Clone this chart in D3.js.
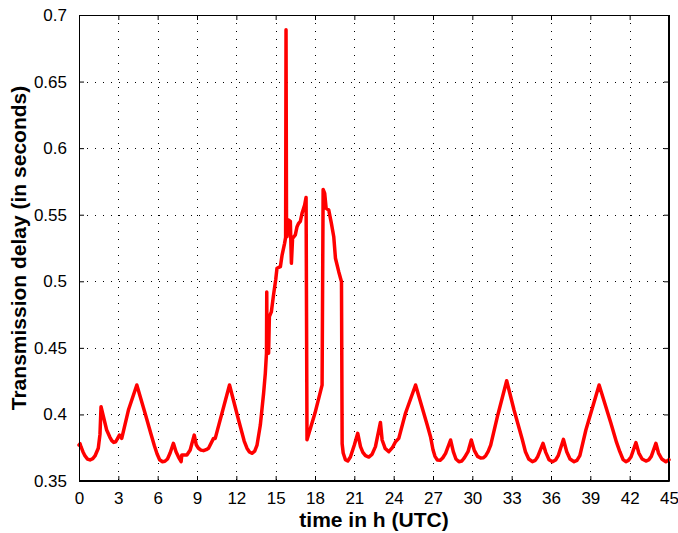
<!DOCTYPE html>
<html>
<head>
<meta charset="utf-8">
<script src="https://cdn.jsdelivr.net/npm/d3@7"></script>
<style>
  html, body { margin: 0; padding: 0; background: #fff; }
  svg { display: block; }
  text { font-family: "Liberation Sans", Arial, Helvetica, sans-serif; fill: #000; }
</style>
</head>
<body>
<svg id="chart" width="678" height="533"></svg>
<script>
// ---- data ----
const times = [
  0.00, 0.08, 0.15, 0.30, 0.46, 0.65, 0.84, 1.05, 1.22, 1.47,
  1.60, 1.68, 2.11, 2.35, 2.50, 2.65, 2.80, 3.08, 3.26, 3.77,
  4.41, 5.04, 5.50, 5.75, 5.95, 6.15, 6.37, 6.55, 6.75, 6.95,
  7.20, 7.40, 7.59, 7.79, 7.84, 8.23, 8.48, 8.79, 8.95, 9.11,
  9.30, 9.50, 9.70, 9.88, 10.26, 10.39, 11.48, 12.17, 12.60, 12.81,
  13.00, 13.19, 13.40, 13.58, 13.83, 14.08, 14.21, 14.30, 14.32, 14.34,
  14.46, 14.52, 14.67, 14.84, 15.00, 15.10, 15.36, 15.49, 15.68, 15.76,
  15.79, 15.83, 15.87, 15.99, 16.12, 16.20, 16.29, 16.50, 16.63, 16.75,
  16.88, 17.01, 17.21, 17.32, 17.39, 18.00, 18.54, 18.62, 18.74, 18.85,
  19.05, 19.25, 19.43, 19.56, 19.81, 20.02, 20.07, 20.15, 20.32, 20.50,
  20.70, 21.00, 21.26, 21.47, 21.65, 21.85, 22.10, 22.35, 22.61, 22.99,
  23.12, 23.35, 23.63, 23.90, 24.14, 24.39, 24.90, 25.67, 26.56, 26.81,
  27.00, 27.15, 27.33, 27.55, 27.75, 27.96, 28.34, 28.55, 28.75, 28.98,
  29.20, 29.40, 29.67, 29.92, 30.15, 30.40, 30.63, 30.85, 31.02, 31.20,
  31.40, 31.91, 32.62, 33.18, 33.82, 34.05, 34.30, 34.58, 34.80, 34.97,
  35.39, 35.60, 35.85, 36.11, 36.35, 36.55, 36.95, 37.20, 37.45, 37.76,
  37.98, 38.20, 38.66, 39.67, 40.57, 41.00, 41.25, 41.50, 41.71, 41.90,
  42.10, 42.48, 42.70, 42.95, 43.24, 43.45, 43.65, 44.00, 44.20, 44.45,
  44.76, 45.00
];
const delays = [
  0.377, 0.378, 0.3758, 0.372, 0.3688, 0.3665, 0.3658, 0.3668, 0.3688, 0.3746,
  0.385, 0.4058, 0.3883, 0.383, 0.3803, 0.379, 0.3795, 0.3845, 0.382, 0.4033,
  0.4221, 0.4009, 0.385, 0.3765, 0.3705, 0.366, 0.3645, 0.3648, 0.3665, 0.371,
  0.3783, 0.372, 0.368, 0.3645, 0.3695, 0.3695, 0.3733, 0.3845, 0.377, 0.3746,
  0.3732, 0.3728, 0.3735, 0.3746, 0.382, 0.382, 0.4221, 0.3958, 0.380, 0.3746,
  0.3718, 0.3708, 0.3725, 0.377, 0.392, 0.4159, 0.4309, 0.446, 0.492, 0.446,
  0.446, 0.4734, 0.477, 0.490, 0.501, 0.5098, 0.511, 0.5197, 0.5285, 0.533,
  0.689, 0.534, 0.5335, 0.546, 0.545, 0.5135, 0.5323, 0.5348, 0.541, 0.5435,
  0.545, 0.551, 0.5573, 0.563, 0.381, 0.401, 0.422, 0.569, 0.566, 0.5548,
  0.5535, 0.5435, 0.5335, 0.5173, 0.5072, 0.4997, 0.378, 0.371, 0.366, 0.365,
  0.368, 0.377, 0.3858, 0.3758, 0.3715, 0.369, 0.368, 0.370, 0.3758, 0.394,
  0.3808, 0.3745, 0.372, 0.375, 0.3795, 0.382, 0.4009, 0.4221, 0.392, 0.3833,
  0.3735, 0.3685, 0.3658, 0.3655, 0.3675, 0.3708, 0.3808, 0.372, 0.3665, 0.3645,
  0.365, 0.3675, 0.372, 0.3808, 0.373, 0.3685, 0.3672, 0.3675, 0.369, 0.372,
  0.377, 0.3983, 0.4253, 0.4033, 0.3808, 0.372, 0.3665, 0.3645, 0.3655, 0.368,
  0.3783, 0.3715, 0.366, 0.3645, 0.3658, 0.369, 0.3813, 0.372, 0.3665, 0.3645,
  0.3655, 0.369, 0.3883, 0.4221, 0.3933, 0.379, 0.372, 0.366, 0.3645, 0.3655,
  0.368, 0.3788, 0.371, 0.3665, 0.365, 0.3658, 0.3685, 0.3783, 0.371, 0.3665,
  0.3645, 0.366
];
const xTicks = [0, 3, 6, 9, 12, 15, 18, 21, 24, 27, 30, 33, 36, 39, 42, 45];
const yTicks = [0.35, 0.4, 0.45, 0.5, 0.55, 0.6, 0.65, 0.7];
const xLabel = "time in h (UTC)";
const yLabel = "Transmission delay (in seconds)";

// ---- layout ----
const pLeft = 79, pRight = 669, pTop = 15, pBottom = 481;
const svg = d3.select("#chart");
svg.append("rect").attr("width", 678).attr("height", 533).attr("fill", "#fff");

const x = d3.scaleLinear().domain([0, 45]).range([pLeft, pRight]);
const y = d3.scaleLinear().domain([0.35, 0.7]).range([pBottom, pTop]);

// grid
const grid = svg.append("g").attr("stroke", "#000").attr("stroke-width", 1)
  .attr("stroke-dasharray", "1,7").attr("fill", "none");
xTicks.slice(1, -1).forEach(t => {
  grid.append("line").attr("x1", Math.round(x(t)) + 0.5).attr("x2", Math.round(x(t)) + 0.5)
    .attr("y1", pTop).attr("y2", pBottom);
});
yTicks.slice(1, -1).forEach(v => {
  grid.append("line").attr("y1", Math.round(y(v)) + 0.5).attr("y2", Math.round(y(v)) + 0.5)
    .attr("x1", pLeft).attr("x2", pRight);
});

// axes (inward ticks on all sides)
const fmtY = d => String(+d.toFixed(2));
const axB = svg.append("g").attr("transform", `translate(0,${pBottom})`)
  .call(d3.axisBottom(x).tickValues(xTicks).tickSizeInner(-5).tickSizeOuter(0).tickPadding(11).tickFormat(d3.format("d")));
const axT = svg.append("g").attr("transform", `translate(0,${pTop})`)
  .call(d3.axisTop(x).tickValues(xTicks).tickSizeInner(-5).tickSizeOuter(0).tickFormat(""));
const axL = svg.append("g").attr("transform", `translate(${pLeft},0)`)
  .call(d3.axisLeft(y).tickValues(yTicks).tickSizeInner(-5).tickSizeOuter(0).tickPadding(12).tickFormat(fmtY));
const axR = svg.append("g").attr("transform", `translate(${pRight},0)`)
  .call(d3.axisRight(y).tickValues(yTicks).tickSizeInner(-5).tickSizeOuter(0).tickFormat(""));
[axB, axT, axL, axR].forEach(a => {
  a.selectAll(".domain").attr("stroke", "#000").attr("stroke-width", 1);
  a.selectAll(".tick line").attr("stroke", "#000").attr("stroke-width", 1);
  a.selectAll("text").style("font-family", '"Liberation Sans", Arial, sans-serif')
    .style("font-size", "17px").attr("fill", "#000");
});
axB.selectAll(".tick text").attr("dy", "0.71em");

// line
const pts = times.map((t, i) => [t, delays[i]]);
svg.append("path")
  .datum(pts)
  .attr("fill", "none")
  .attr("stroke", "#ff0000")
  .attr("stroke-width", 3.5)
  .attr("stroke-linejoin", "round")
  .attr("stroke-linecap", "round")
  .attr("d", d3.line().x(d => x(d[0])).y(d => y(d[1])));

// box
svg.append("rect").attr("x", pLeft + 0.5).attr("y", pTop + 0.5)
  .attr("width", pRight - pLeft - 1).attr("height", pBottom - pTop - 1)
  .attr("fill", "none").attr("stroke", "#000").attr("stroke-width", 1);

// labels
svg.append("text").attr("x", (pLeft + pRight) / 2).attr("y", 527)
  .attr("text-anchor", "middle").style("font-size", "21px").style("font-weight", "bold")
  .text(xLabel);
svg.append("text").attr("transform", `translate(26,${(pTop + pBottom) / 2}) rotate(-90)`)
  .attr("text-anchor", "middle").style("font-size", "21px").style("font-weight", "bold")
  .text(yLabel);
</script>
</body>
</html>
